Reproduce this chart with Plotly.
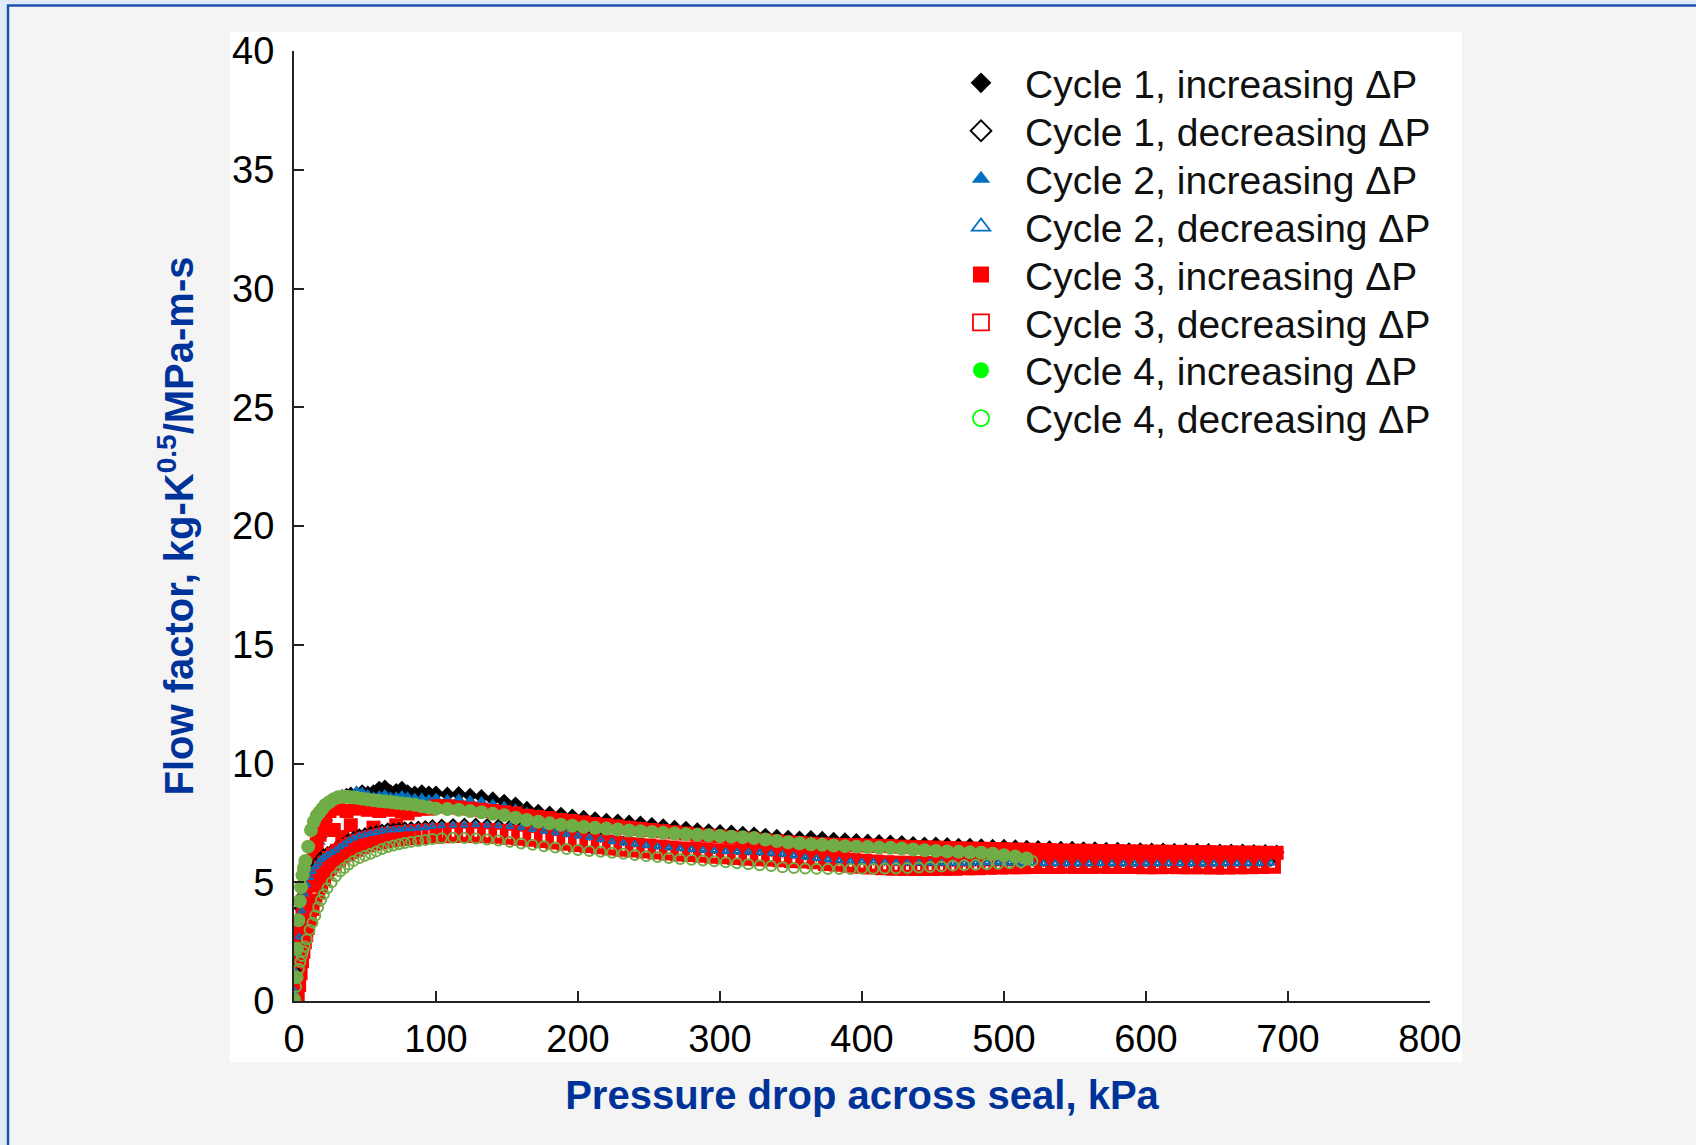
import plotly.graph_objects as go

# ---------------------------------------------------------------------------
# Pressure drop sample points (kPa)
# ---------------------------------------------------------------------------
P_UP = [
    0, 1, 2, 3, 4, 5, 6, 7, 8, 10,
    12, 14, 16, 18, 20, 22, 25, 28, 31, 34,
    37, 40, 44, 48, 52, 56, 60, 64, 68, 72,
    76, 80, 85, 90, 95,
    100, 108, 116, 124, 132, 140, 148, 156, 164, 172,
    180, 188, 196, 204, 212, 220, 228, 236, 244, 252,
    260, 268, 276, 284, 292, 300, 308, 316, 324, 332,
    340, 348, 356, 364, 372, 380, 388, 396, 404, 412,
    420, 428, 436, 444, 452, 460, 468, 476, 484, 492,
    500, 508, 516, 524, 532, 540, 548, 556, 564, 572,
    580, 588, 596, 604, 612, 620, 628, 636, 644, 652,
    660, 668, 676, 684, 692,
]

P_DOWN = [
    0.5, 1.5, 2.5, 3.5, 4.5, 5.5, 6.5, 7.5, 9, 11,
    13, 15, 17, 19, 21, 23.5, 26.5, 29.5, 32.5, 35.5,
    38.5, 42, 46, 50, 54, 58, 62, 66, 70, 74,
    78, 82.5, 87.5, 92.5, 97.5,
    104, 112, 120, 128, 136, 144, 152, 160, 168, 176,
    184, 192, 200, 208, 216, 224, 232, 240, 248, 256,
    264, 272, 280, 288, 296, 304, 312, 320, 328, 336,
    344, 352, 360, 368, 376, 384, 392, 400, 408, 416,
    424, 432, 440, 448, 456, 464, 472, 480, 488, 496,
    504, 512, 520, 528, 536, 544, 552, 560, 568, 576,
    584, 592, 600, 608, 616, 624, 632, 640, 648, 656,
    664, 672, 680, 688,
]

# ---------------------------------------------------------------------------
# Flow factor, kg-K^0.5/MPa-m-s
# ---------------------------------------------------------------------------
C1_UP = [
    0.0, 0.9, 1.8, 2.6, 3.3, 3.9, 4.4, 4.8, 5.1, 5.4,
    5.8, 6.1, 6.4, 6.9, 7.3, 7.6, 8.0, 8.3, 8.5, 8.6,
    8.65, 8.7, 8.65, 8.8, 8.75, 8.8, 8.95, 9.0, 8.8, 8.85,
    8.95, 8.8, 8.75, 8.8, 8.75,
    8.75, 8.70, 8.72, 8.65, 8.60, 8.50, 8.40, 8.28, 8.10, 7.98,
    7.90, 7.85, 7.78, 7.72, 7.66, 7.60, 7.57, 7.52, 7.48, 7.42,
    7.37, 7.30, 7.26, 7.20, 7.16, 7.12, 7.10, 7.05, 7.02, 6.97,
    6.92, 6.88, 6.85, 6.87, 6.84, 6.80, 6.78, 6.75, 6.72, 6.70,
    6.68, 6.66, 6.62, 6.60, 6.60, 6.58, 6.55, 6.55, 6.52, 6.50,
    6.50, 6.48, 6.46, 6.45, 6.44, 6.42, 6.42, 6.40, 6.40, 6.38,
    6.38, 6.36, 6.36, 6.35, 6.35, 6.34, 6.33, 6.33, 6.32, 6.30,
    6.30, 6.30, 6.28, 6.28, 6.26,
]

C1_DOWN = [
    0.5, 1.3, 2.1, 2.8, 3.4, 3.9, 4.3, 4.7, 5.0, 5.35,
    5.6, 5.8, 5.95, 6.1, 6.2, 6.3, 6.4, 6.5, 6.62, 6.72,
    6.85, 6.95, 7.05, 7.1, 7.15, 7.2, 7.25, 7.3, 7.3, 7.32,
    7.35, 7.36, 7.38, 7.4, 7.44,
    7.46, 7.48, 7.50, 7.50, 7.48, 7.46, 7.42, 7.38, 7.30, 7.24,
    7.16, 7.10, 7.04, 6.96, 6.88, 6.80, 6.74, 6.68, 6.63, 6.58,
    6.54, 6.50, 6.46, 6.43, 6.40, 6.38, 6.36, 6.34, 6.32, 6.29,
    6.25, 6.20, 6.14, 6.08, 6.03, 5.98, 5.96, 5.94, 5.92, 5.91,
    5.90, 5.89, 5.89, 5.88, 5.88, 5.87, 5.87, 5.88, 5.88, 5.89,
    5.88, 5.87, 5.87, 5.86, 5.86, 5.86, 5.85, 5.85, 5.86, 5.85,
    5.85, 5.85, 5.86, 5.85, 5.86, 5.85, 5.85, 5.84, 5.85, 5.85,
    5.86, 5.85, 5.86, 5.87,
]

C2_UP = [
    0.0, 0.8, 1.6, 2.3, 3.0, 3.6, 4.1, 4.5, 4.9, 5.3,
    5.7, 6.0, 6.3, 6.7, 7.1, 7.45, 7.85, 8.15, 8.35, 8.45,
    8.55, 8.6, 8.85, 8.8, 8.7, 8.6, 8.65, 8.7, 8.6, 8.6,
    8.65, 8.6, 8.55, 8.55, 8.5,
    8.55, 8.50, 8.52, 8.45, 8.40, 8.30, 8.20, 8.10, 7.96, 7.86,
    7.78, 7.74, 7.68, 7.62, 7.56, 7.50, 7.46, 7.40, 7.36, 7.30,
    7.26, 7.20, 7.15, 7.10, 7.06, 7.02, 6.98, 6.94, 6.90, 6.86,
    6.82, 6.78, 6.75, 6.74, 6.72, 6.68, 6.66, 6.63, 6.60, 6.58,
    6.56, 6.54, 6.52, 6.50, 6.49, 6.47, 6.45, 6.44, 6.42, 6.40,
    6.40, 6.38, 6.36, 6.35, 6.34, 6.33, 6.32, 6.30, 6.30, 6.29,
    6.28, 6.27, 6.26, 6.25, 6.25, 6.24, 6.23, 6.23, 6.22, 6.21,
    6.20, 6.20, 6.19, 6.18, 6.17,
]

C2_DOWN = [
    0.4, 1.2, 2.0, 2.7, 3.3, 3.8, 4.2, 4.5, 4.9, 5.2,
    5.45, 5.65, 5.8, 5.95, 6.05, 6.15, 6.25, 6.35, 6.5, 6.6,
    6.75, 6.85, 6.95, 7.0, 7.05, 7.1, 7.15, 7.2, 7.2, 7.22,
    7.25, 7.25, 7.28, 7.3, 7.35,
    7.38, 7.40, 7.40, 7.42, 7.40, 7.38, 7.35, 7.30, 7.22, 7.15,
    7.08, 7.02, 6.95, 6.88, 6.80, 6.72, 6.65, 6.60, 6.55, 6.50,
    6.45, 6.42, 6.38, 6.35, 6.33, 6.30, 6.28, 6.27, 6.25, 6.22,
    6.18, 6.12, 6.05, 6.00, 5.95, 5.90, 5.88, 5.86, 5.85, 5.84,
    5.83, 5.82, 5.82, 5.81, 5.81, 5.80, 5.80, 5.81, 5.82, 5.82,
    5.81, 5.80, 5.80, 5.79, 5.79, 5.78, 5.78, 5.78, 5.79, 5.78,
    5.78, 5.77, 5.78, 5.78, 5.79, 5.78, 5.78, 5.77, 5.78, 5.78,
    5.79, 5.78, 5.79, 5.80,
]

C3_UP = [
    0.0, 0.6, 1.3, 2.0, 2.6, 3.1, 3.6, 4.0, 4.4, 5.0,
    5.6, 6.1, 6.6, 7.0, 7.4, 7.7, 8.0, 7.2, 8.1, 6.9,
    8.0, 7.4, 8.1, 6.9, 8.05, 7.3, 8.0, 7.0, 8.05, 7.4,
    8.0, 7.9, 8.05, 8.1, 8.1,
    8.20, 8.20, 8.15, 8.10, 8.05, 8.00, 7.95, 7.90, 7.80, 7.75,
    7.70, 7.62, 7.58, 7.52, 7.45, 7.40, 7.35, 7.30, 7.25, 7.20,
    7.15, 7.10, 7.05, 7.00, 6.96, 6.92, 6.88, 6.84, 6.80, 6.76,
    6.72, 6.68, 6.65, 6.62, 6.60, 6.58, 6.57, 6.56, 6.55, 6.53,
    6.52, 6.50, 6.48, 6.47, 6.46, 6.44, 6.43, 6.42, 6.41, 6.40,
    6.39, 6.38, 6.37, 6.36, 6.35, 6.34, 6.33, 6.33, 6.32, 6.31,
    6.31, 6.30, 6.30, 6.29, 6.29, 6.28, 6.28, 6.27, 6.27, 6.26,
    6.26, 6.25, 6.25, 6.24, 6.24,
]

C3_DOWN = [
    0.3, 0.8, 1.3, 1.8, 2.2, 2.6, 2.9, 3.2, 3.6, 4.0,
    4.4, 4.7, 5.0, 5.25, 5.5, 5.7, 5.9, 6.05, 6.2, 6.3,
    6.4, 6.5, 6.6, 6.68, 6.75, 6.8, 6.85, 6.9, 6.92, 6.95,
    6.98, 7.0, 7.02, 7.04, 7.05,
    7.06, 7.08, 7.08, 7.08, 7.06, 7.04, 7.00, 6.96, 6.92, 6.86,
    6.80, 6.75, 6.70, 6.65, 6.60, 6.55, 6.50, 6.46, 6.42, 6.38,
    6.34, 6.30, 6.27, 6.24, 6.20, 6.18, 6.15, 6.12, 6.10, 6.08,
    6.05, 6.02, 6.00, 5.97, 5.90, 5.86, 5.82, 5.78, 5.75, 5.72,
    5.70, 5.70, 5.68, 5.68, 5.70, 5.70, 5.72, 5.72, 5.74, 5.75,
    5.76, 5.76, 5.77, 5.77, 5.77, 5.78, 5.77, 5.77, 5.78, 5.77,
    5.77, 5.77, 5.76, 5.76, 5.77, 5.76, 5.76, 5.76, 5.75, 5.75,
    5.76, 5.76, 5.77, 5.78,
]

C4_UP = [
    0.0, 1.0, 2.2, 3.4, 4.2, 4.8, 5.3, 5.6, 5.9, 6.5,
    7.2, 7.55, 7.8, 7.95, 8.1, 8.25, 8.38, 8.5, 8.58, 8.6,
    8.6, 8.58, 8.56, 8.52, 8.48, 8.45, 8.42, 8.4, 8.38, 8.35,
    8.32, 8.3, 8.26, 8.2, 8.15,
    8.10, 8.08, 8.05, 8.00, 7.95, 7.88, 7.82, 7.72, 7.62, 7.55,
    7.48, 7.42, 7.38, 7.33, 7.29, 7.26, 7.22, 7.18, 7.15, 7.12,
    7.08, 7.05, 7.02, 7.00, 6.98, 6.95, 6.92, 6.90, 6.86, 6.80,
    6.74, 6.68, 6.64, 6.60, 6.58, 6.55, 6.52, 6.50, 6.48, 6.46,
    6.45, 6.42, 6.38, 6.35, 6.32, 6.30, 6.28, 6.26, 6.24, 6.20,
    6.14, 6.08, 6.00,
]

C4_DOWN = [
    0.1, 0.6, 1.0, 1.35, 1.65, 1.9, 2.1, 2.3, 2.6, 3.0,
    3.3, 3.6, 3.95, 4.25, 4.5, 4.75, 5.0, 5.25, 5.45, 5.6,
    5.75, 5.9, 6.02, 6.12, 6.2, 6.3, 6.4, 6.48, 6.55, 6.6,
    6.65, 6.7, 6.74, 6.78, 6.82,
    6.85, 6.87, 6.86, 6.84, 6.80, 6.76, 6.70, 6.63, 6.58, 6.52,
    6.46, 6.40, 6.36, 6.32, 6.28, 6.24, 6.20, 6.15, 6.10, 6.06,
    6.02, 5.98, 5.95, 5.92, 5.88, 5.84, 5.80, 5.76, 5.72, 5.68,
    5.63, 5.60, 5.58, 5.57, 5.56, 5.56, 5.56, 5.57, 5.57, 5.58,
    5.58, 5.60, 5.62, 5.64, 5.66, 5.70, 5.72, 5.74, 5.76, 5.78,
    5.80, 5.84, 5.90,
]

for ys in (C1_UP, C2_UP, C3_UP):
    assert len(ys) == len(P_UP), len(ys)
for ys in (C1_DOWN, C2_DOWN, C3_DOWN):
    assert len(ys) == len(P_DOWN), len(ys)

LEGEND_NAMES = [
    "Cycle 1, increasing \u0394P",
    "Cycle 1, decreasing \u0394P",
    "Cycle 2, increasing \u0394P",
    "Cycle 2, decreasing \u0394P",
    "Cycle 3, increasing \u0394P",
    "Cycle 3, decreasing \u0394P",
    "Cycle 4, increasing \u0394P",
    "Cycle 4, decreasing \u0394P",
]

# ---------------------------------------------------------------------------
# Styling
# ---------------------------------------------------------------------------
FONT = "Liberation Sans, Arial, sans-serif"
TITLE_BLUE = "#003399"
BLACK = "#000000"
BLUE = "#0070C0"
RED = "#FF0000"
GREEN = "#70AD47"
LEGEND_GREEN = "#00FF00"

W, H = 1696, 1145
ML, MR, MT, MB = 294, 266, 51, 144
PW, PH = W - ML - MR, H - MT - MB


def fx(px):
    """Horizontal pixel -> paper coordinate."""
    return (px - ML) / PW


def fy(py):
    """Vertical pixel (from top) -> paper coordinate."""
    return (H - MB - py) / PH


# (group, x, y, symbol, colour, size, line width, legend colour)
series = [
    ("c1u", P_UP, C1_UP, "diamond", BLACK, 12, 0, BLACK),
    ("c2u", P_UP, C2_UP, "triangle-up", BLUE, 11, 0, BLUE),
    ("c3u", P_UP, C3_UP, "square", RED, 14, 0, RED),
    ("c1d", P_DOWN, C1_DOWN, "diamond-open", BLACK, 6, 2, BLACK),
    ("c3d", P_DOWN, C3_DOWN, "square-open", RED, 14, 6, RED),
    ("c2d", P_DOWN, C2_DOWN, "triangle-up-open", BLUE, 6, 2, BLUE),
    ("c4u", P_UP[:len(C4_UP)], C4_UP, "circle", GREEN, 14, 0, LEGEND_GREEN),
    ("c4d", P_DOWN[:len(C4_DOWN)], C4_DOWN, "circle-open", GREEN, 10, 2, LEGEND_GREEN),
]

fig = go.Figure()

for grp, xs, ys, sym, col, size, lw, _ in series:
    fig.add_trace(go.Scatter(
        x=xs, y=ys, mode="markers", legendgroup=grp, showlegend=False,
        marker=dict(symbol=sym, color=col, size=size,
                    line=dict(color=col, width=lw)),
        hoverinfo="x+y",
    ))

# one legend box per entry so the rows can sit at their own spacing
legend_order = ["c1u", "c1d", "c2u", "c2d", "c3u", "c3d", "c4u", "c4d"]
style = {s[0]: s for s in series}
legend_layouts = {}
ROW0, ROW_STEP = 83, 47.9
for i, (grp, name) in enumerate(zip(legend_order, LEGEND_NAMES)):
    key = "legend" if i == 0 else f"legend{i + 1}"
    _, _, _, sym, _, _, lw, lcol = style[grp]
    fig.add_trace(go.Scatter(
        x=[None], y=[None], mode="markers", name=name, legendgroup=grp,
        legend=key,
        marker=dict(symbol=sym, color=lcol, size=16,
                    line=dict(color=lcol, width=1.8 if "open" in sym else 0)),
    ))
    legend_layouts[key] = dict(
        x=fx(937), y=fy(ROW0 + i * ROW_STEP), xanchor="left", yanchor="middle",
        bgcolor="rgba(0,0,0,0)", borderwidth=0, itemwidth=78,
        font=dict(family=FONT, size=39, color="#111111"),
    )

axis_common = dict(
    showgrid=False, zeroline=False, showline=True, linecolor="#222222",
    linewidth=2, ticks="inside", ticklen=10, tickwidth=2, tickcolor="#222222",
    tickfont=dict(family=FONT, size=38, color="#000000"), automargin=False,
)

fig.update_xaxes(
    range=[0, 800], dtick=100, tick0=0, ticklabelstandoff=3,
    title=dict(text="Pressure drop across seal, kPa", standoff=22,
               font=dict(family=FONT, size=40, color=TITLE_BLUE, weight="bold")),
    **axis_common,
)
fig.update_yaxes(
    range=[0, 40], dtick=5, tick0=0, ticklabelstandoff=10,
    title=dict(text="Flow factor, kg-K<sup>0.5</sup>/MPa-m-s", standoff=26,
               font=dict(family=FONT, size=40, color=TITLE_BLUE, weight="bold")),
    **axis_common,
)

fig.update_layout(
    width=W, height=H,
    margin=dict(l=ML, r=MR, t=MT, b=MB, pad=0),
    paper_bgcolor="#dfeaf7",
    plot_bgcolor="#ffffff",
    font=dict(family=FONT, color="#000000"),
    showlegend=True,
    shapes=[
        # framed panel
        dict(type="rect", xref="paper", yref="paper", layer="below",
             x0=fx(8), x1=fx(W + 20), y0=fy(5.5), y1=fy(H + 20),
             fillcolor="#f4f4f4", line=dict(color="#1f52b0", width=2.5)),
        # white chart area
        dict(type="rect", xref="paper", yref="paper", layer="below",
             x0=fx(230), x1=fx(1462), y0=fy(32), y1=fy(1062),
             fillcolor="#ffffff", line=dict(width=0)),
    ],
    **legend_layouts,
)

fig.write_html("out.html")
